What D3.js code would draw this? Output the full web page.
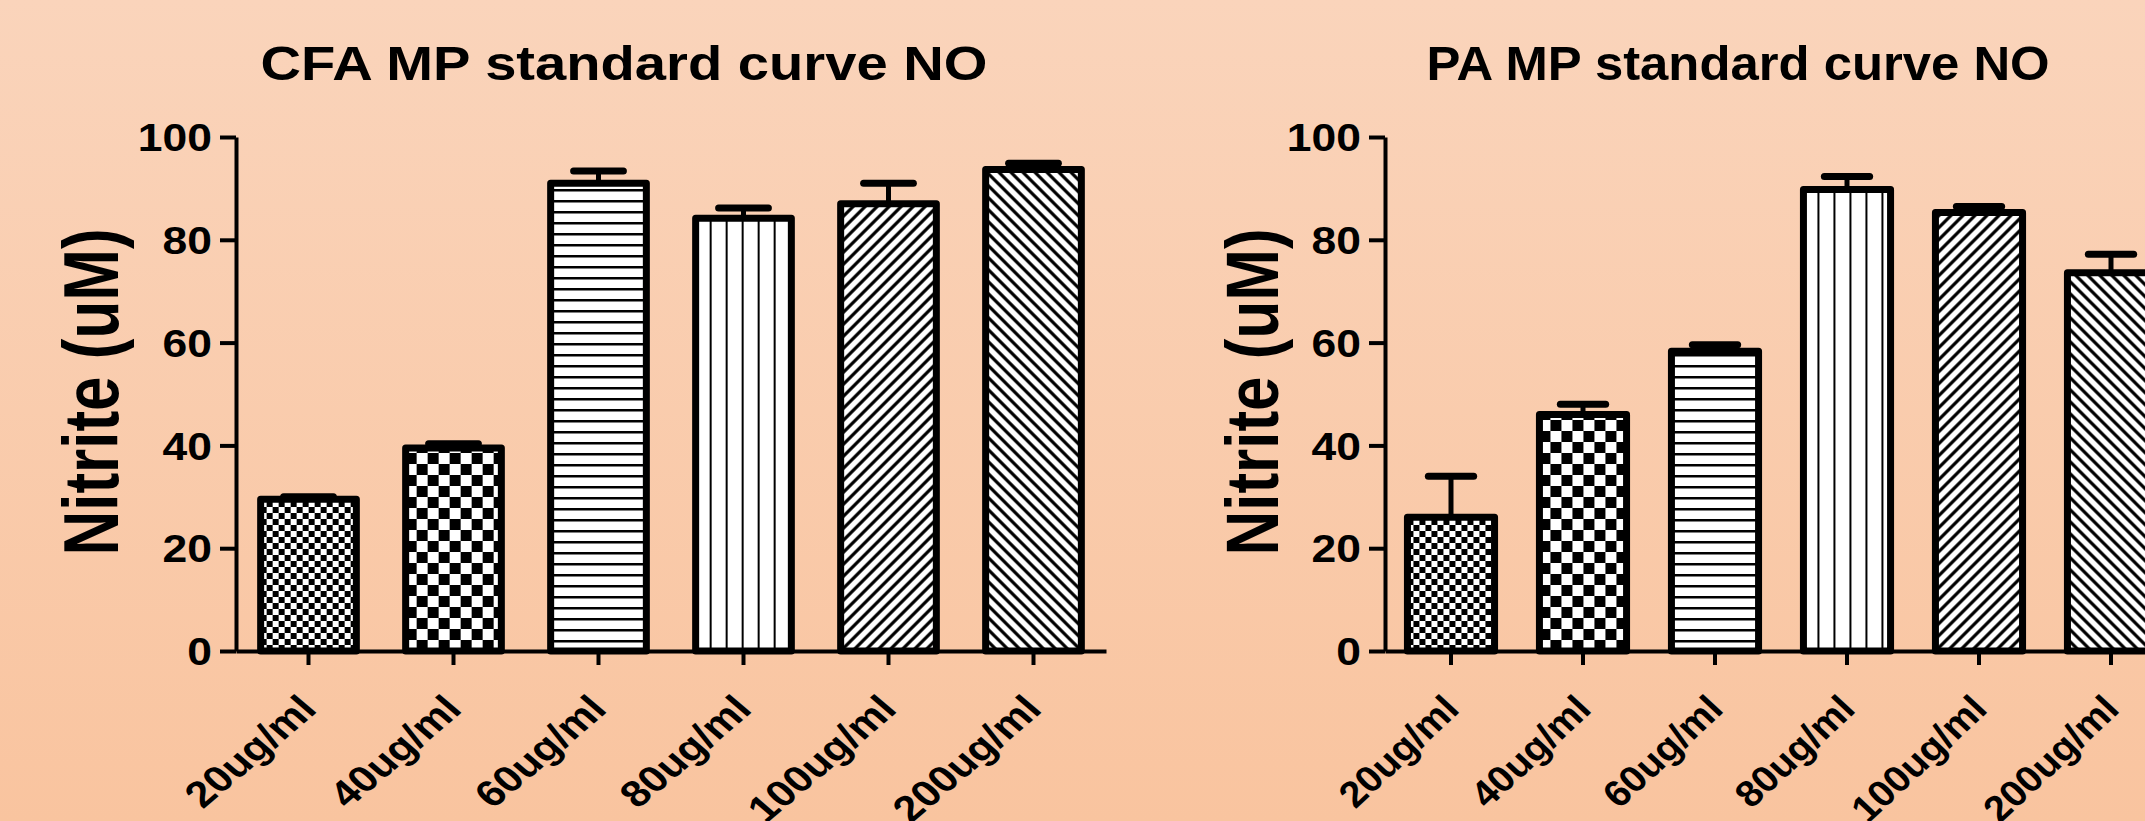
<html>
<head>
  <meta charset="utf-8">
  <script src="https://d3js.org/d3.v7.min.js"></script>
  <style>
    body { margin: 0; }
    text { font-family: "Liberation Sans", Arial, sans-serif; font-weight: bold; fill: #000; }
  </style>
  <script>
    // values
    var categories = ["20ug/ml", "40ug/ml", "60ug/ml", "80ug/ml", "100ug/ml", "200ug/ml"];
    var cfaMeans  = [29.5, 39.5, 91.0, 84.2, 87.0, 93.7];
    var cfaErrors = [0.5, 0.8, 2.4, 2.0, 4.0, 1.2];
    var paMeans   = [26.0, 46.0, 58.3, 89.8, 85.3, 73.6];
    var paErrors  = [8.0, 2.0, 1.3, 2.5, 1.2, 3.6];
    var yTicks = [0, 20, 40, 60, 80, 100];

    var patternKinds = ["fineCheck", "coarseCheck", "hLines", "vLines", "fwdDiag", "backDiag"];

    function addPattern(defs, id, kind, ox, oy) {
      var p = defs.append("pattern").attr("id", id)
        .attr("patternUnits", "userSpaceOnUse").attr("x", ox).attr("y", oy);
      var s;
      if (kind == "fineCheck" || kind == "coarseCheck") {
        var c = kind == "fineCheck" ? 6 : 11;
        p.attr("width", c*2).attr("height", c*2);
        p.append("rect").attr("width", c*2).attr("height", c*2).attr("fill", "#fff");
        p.append("rect").attr("width", c).attr("height", c).attr("fill", "#000");
        p.append("rect").attr("x", c).attr("y", c).attr("width", c).attr("height", c).attr("fill", "#000");
      } else if (kind == "hLines") {
        p.attr("width", 10).attr("height", 11);
        p.append("rect").attr("width", 10).attr("height", 11).attr("fill", "#fff");
        p.append("rect").attr("y", 0).attr("width", 10).attr("height", 2.5).attr("fill", "#000");
      } else if (kind == "vLines") {
        p.attr("width", 16).attr("height", 10);
        p.append("rect").attr("width", 16).attr("height", 10).attr("fill", "#fff");
        p.append("rect").attr("x", 14).attr("width", 2.5).attr("height", 10).attr("fill", "#000");
      } else {
        s = 12;
        p.attr("width", s).attr("height", s);
        p.append("rect").attr("width", s).attr("height", s).attr("fill", "#fff");
        var d = kind == "fwdDiag"
          ? "M-3,3 L3,-3 M0,12 L12,0 M9,15 L15,9"
          : "M-3,9 L3,15 M0,0 L12,12 M9,-3 L15,3";
        p.append("path").attr("d", d).attr("stroke", "#000").attr("stroke-width", 3.2);
      }
    }

    function drawChart(svg, cfg) {
      var y = d3.scaleLinear().domain([0, 100]).range([651, 137]);
      var x = d3.scaleBand().domain(categories)
        .range([cfg.x0, cfg.x0 + cfg.step * categories.length])
        .paddingInner(0.34).paddingOuter(0.17);
      var bw = x.bandwidth();
      var defs = svg.select("defs");
      var g = svg.append("g");

      // title
      g.append("text")
        .attr("transform", "translate(" + cfg.titleX + ",80) scale(" + cfg.sx + ",1)")
        .attr("text-anchor", "middle").style("font-size", cfg.titleSize + "px")
        .text(cfg.title);

      // y axis title
      g.append("text")
        .attr("transform", "translate(" + cfg.ylabX + ",392) scale(" + cfg.sxY + ",1) rotate(-90)")
        .attr("text-anchor", "middle").style("font-size", "62px")
        .text("Nitrite (uM)");

      // error bars first, bars drawn over them
      g.append("g").selectAll("path").data(cfg.means).enter()
        .append("path")
        .attr("d", function(d, i) {
          var cx = x(categories[i]) + bw/2, top = y(d + cfg.errors[i]);
          return "M" + cx + "," + y(d) + "V" + top;
        })
        .attr("stroke", "#000").attr("stroke-width", 5).attr("fill", "none");
      g.append("g").selectAll("path").data(cfg.means).enter()
        .append("path")
        .attr("d", function(d, i) {
          var cx = x(categories[i]) + bw/2, top = y(d + cfg.errors[i]);
          return "M" + (cx - bw*0.26) + "," + top + "H" + (cx + bw*0.26);
        })
        .attr("stroke", "#000").attr("stroke-width", 7).attr("stroke-linecap", "round");

      cfg.means.forEach(function(d, i) {
        addPattern(defs, cfg.id + "-p" + i, patternKinds[i], x(categories[i]), y(0));
      });

      g.append("g").selectAll("rect").data(cfg.means).enter()
        .append("rect")
        .attr("x", function(d, i) { return x(categories[i]); })
        .attr("y", function(d) { return y(d); })
        .attr("width", bw)
        .attr("height", function(d) { return y(0) - y(d); })
        .attr("fill", function(d, i) { return "url(#" + cfg.id + "-p" + i + ")"; })
        .attr("stroke", "#000").attr("stroke-width", 7).attr("stroke-linejoin", "round");

      // axes
      var xa = g.append("g").attr("transform", "translate(0,651)")
        .call(d3.axisBottom(x).tickSize(14).tickSizeOuter(0));
      xa.select(".domain").attr("stroke-width", 4);
      xa.selectAll(".tick line").attr("stroke-width", 4);
      xa.selectAll(".tick text")
        .attr("x", 0).attr("y", 0).attr("dy", 0)
        .attr("text-anchor", "end")
        .attr("transform", "translate(10,60) scale(" + cfg.sx + ",1) rotate(-45)")
        .style("font-size", "37px");

      var ya = g.append("g").attr("transform", "translate(" + cfg.x0 + ",0)")
        .call(d3.axisLeft(y).tickValues(yTicks).tickSize(16).tickSizeOuter(0));
      ya.select(".domain").attr("stroke-width", 4);
      ya.selectAll(".tick line").attr("stroke-width", 4);
      ya.selectAll(".tick text")
        .attr("x", -24 / 1.17).attr("dy", "0.36em")
        .attr("transform", "scale(1.17,1)")
        .style("font-size", "38px");
      g.selectAll(".tick text").attr("font-family", null).attr("font-size", null);
    }

    function makeCharts() {
      var svg = d3.select("#chart");
      var defs = svg.append("defs");
      var bg = defs.append("linearGradient").attr("id", "bg")
        .attr("x1", 0).attr("y1", 0).attr("x2", 0).attr("y2", 1);
      bg.append("stop").attr("offset", "0%").attr("stop-color", "#fad4bb");
      bg.append("stop").attr("offset", "100%").attr("stop-color", "#f9c49f");
      svg.append("rect").attr("width", 2145).attr("height", 821).attr("fill", "url(#bg)");

      drawChart(svg, { id: "cfa", title: "CFA MP standard curve NO", means: cfaMeans, errors: cfaErrors,
        x0: 236, step: 145, titleX: 624, titleSize: 48, sx: 1.17, sxY: 1.25, ylabX: 118 });
      drawChart(svg, { id: "pa", title: "PA MP standard curve NO", means: paMeans, errors: paErrors,
        x0: 1385, step: 132, titleX: 1738, titleSize: 47.5, sx: 1.07, sxY: 1.2, ylabX: 1278 });
    }
  </script>
</head>
<body onload="makeCharts()">
  <svg id="chart" width="2145" height="821"></svg>
</body>
</html>
